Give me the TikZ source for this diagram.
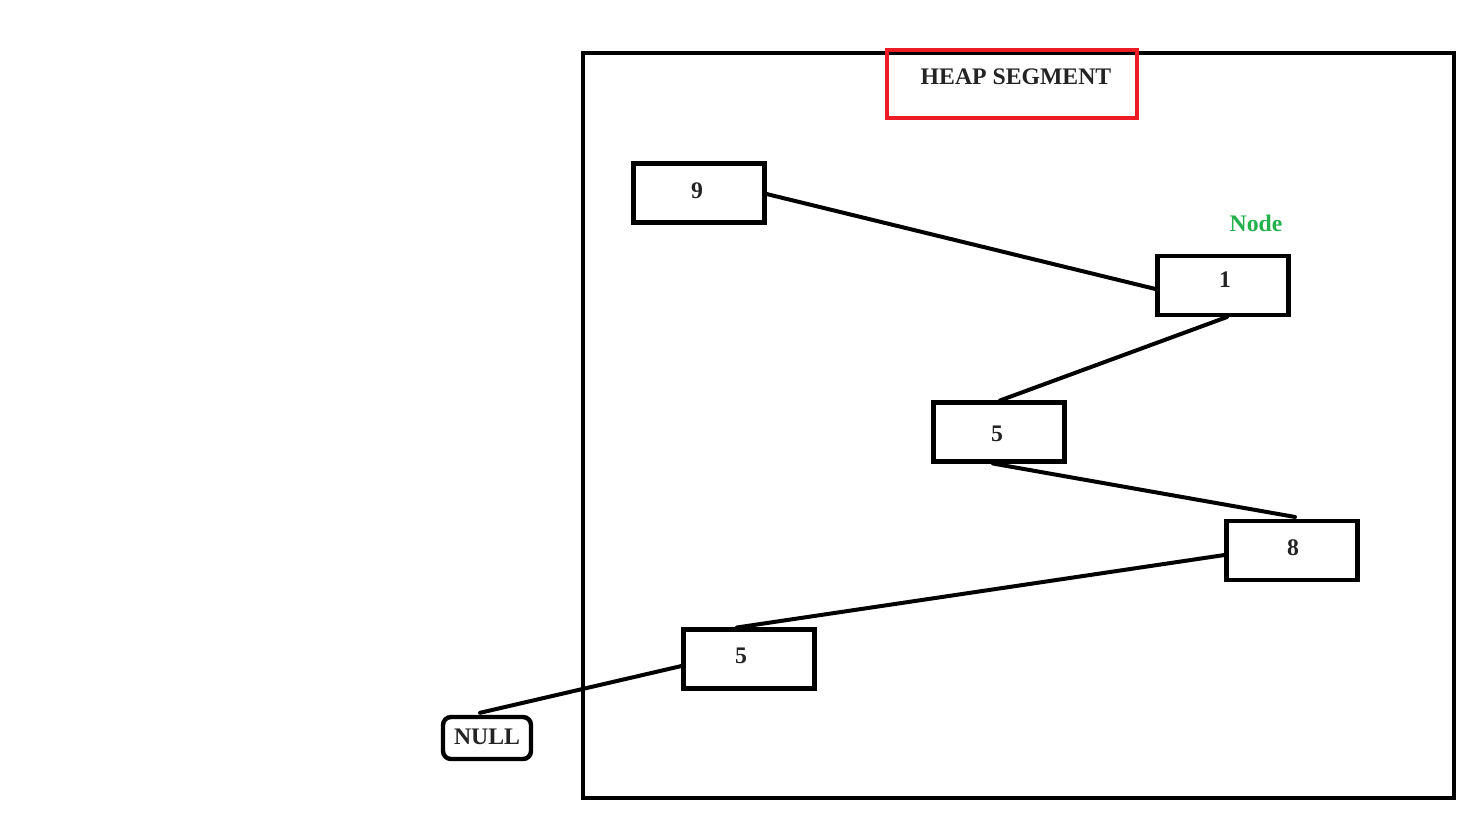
\documentclass[tikz,border=0pt]{standalone}
\usepackage{fontspec}
\setmainfont{Liberation Serif}
\usetikzlibrary{calc}
\definecolor{heapred}{RGB}{237,28,36}
\definecolor{nodegreen}{RGB}{34,177,76}
\definecolor{txtgray}{RGB}{35,35,35}
\tikzset{
  px/.style={x=0.75pt,y=-0.75pt},
  cellbox/.style={draw=black,line width=3.3pt,minimum width=98pt,minimum height=44pt,inner sep=0pt},
  lbl/.style={font=\fontsize{17.8}{20}\selectfont\bfseries,text=txtgray,inner sep=0pt},
  link/.style={line width=3pt,line cap=round},
}
\begin{document}
\begin{tikzpicture}[px]
\useasboundingbox (0,0) rectangle (1474,825);
% heap segment frame
\draw[line width=3.5pt] (583,53) rectangle (1454,798);
\node[draw=heapred,line width=3.3pt,minimum width=187.5pt,minimum height=51pt,inner sep=0pt] (title) at (1012,84) {};
\node[lbl] (titletext) at (1016,77) {HEAP SEGMENT};
% cells
\node[cellbox] (n9) at (699,193) {};
\node[lbl] (t9) at (697,191) {9};
\node[cellbox] (n1) at (1223,285.5) {};
\node[lbl] (t1) at (1225,280) {1};
\node[lbl,text=nodegreen] (nodelbl) at (1256,223) {Node};
\node[cellbox] (n5a) at (999,432) {};
\node[lbl] (t5a) at (997,434) {5};
\node[cellbox] (n8) at (1292,550.5) {};
\node[lbl] (t8) at (1293,548) {8};
\node[cellbox] (n5b) at (749,659) {};
\node[lbl] (t5b) at (741,656) {5};
\node[draw,line width=3.3pt,rounded corners=6pt,minimum width=66pt,minimum height=31.5pt,inner sep=0pt] (null) at (487,738) {};
\node[lbl] (tnull) at (487,737) {NULL};
% links
\draw[link] ($(n9.east)+(0,1)$) -- ($(n1.west)+(0,3.5)$);
\draw[link] ($(n1.south)+(4,0)$) -- ($(n5a.north)+(1,0)$);
\draw[link] ($(n5a.south)+(-6,0)$) -- ($(n8.north)+(3,-2)$);
\draw[link] ($(n8.west)+(0,4.5)$) -- ($(n5b.north)+(-12,0)$);
\draw[link] ($(n5b.west)+(0,7)$) -- ($(null.north)+(-7,-2)$);
\end{tikzpicture}
\end{document}
